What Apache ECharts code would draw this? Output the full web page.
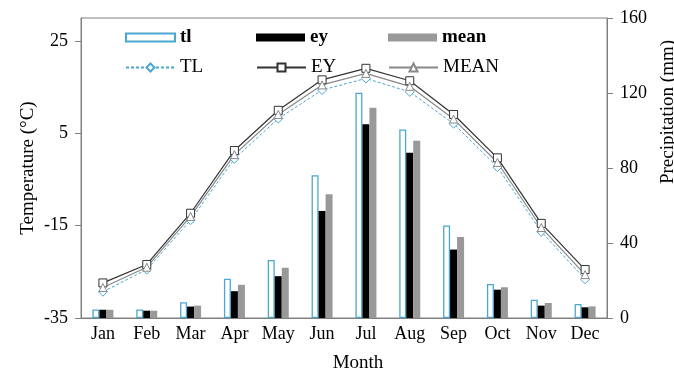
<!DOCTYPE html>
<html>
<head>
<meta charset="utf-8">
<script src="https://cdn.jsdelivr.net/npm/echarts@6/dist/echarts.min.js"></script>
<style>
  html, body { margin: 0; padding: 0; background: #fff; }
  #chart { width: 674px; height: 369px; }
</style>
</head>
<body>
<div id="chart"></div>
<script>
// Monthly climate: precipitation bars (mm) and temperature lines (°C)
const months = ['Jan', 'Feb', 'Mar', 'Apr', 'May', 'Jun', 'Jul', 'Aug', 'Sep', 'Oct', 'Nov', 'Dec'];

// Precipitation (mm)
const precipTl   = [4.6, 4.6, 8.4, 20.9, 31.0, 76.1, 120.2, 100.6, 49.4, 18.2, 9.8, 7.5];
const precipEy   = [4.4, 3.9, 6.1, 14.3, 22.3, 57.1, 103.3, 88.1, 36.5, 15.1, 6.6, 5.7];
const precipMean = [4.4, 3.9, 6.6, 17.7, 26.8, 66.0, 112.2, 94.5, 43.2, 16.4, 8.0, 6.2];

// Temperature (°C)
const tempTL   = [-29.3, -24.5, -13.8, -0.5, 8.2, 14.4, 16.9, 14.0, 7.1, -2.3, -16.3, -26.6];
const tempEY   = [-27.4, -23.4, -12.3, 1.3, 10.0, 16.6, 19.1, 16.4, 9.1, -0.3, -14.5, -24.5];
const tempMean = [-28.4, -24.0, -13.0, 0.4, 9.1, 15.5, 18.0, 15.2, 8.1, -1.3, -15.4, -25.6];

// Axis tick values
const tempTicks = [-35, -15, 5, 25];
const precipTicks = [0, 40, 80, 120, 160];

const FONT = "'Liberation Serif', 'Times New Roman', serif";
const AXIS_GRAY = '#808080';
const BLUE = '#4aa8d0';

const chart = echarts.init(document.getElementById('chart'), null, { renderer: 'canvas' });

function legendAt(name, left, top, opts) {
  return Object.assign({
    data: [name],
    left: left,
    top: top,
    itemWidth: 49,
    itemHeight: 8,
    padding: 0,
    selectedMode: false,
    textStyle: { fontFamily: FONT, fontSize: 19, color: '#000' }
  }, opts || {});
}

const boldText = { fontFamily: FONT, fontSize: 19, color: '#000', fontWeight: 'bold' };

chart.setOption({
  animation: false,
  backgroundColor: '#fff',
  textStyle: { fontFamily: FONT },
  grid: {
    left: 81, right: 67, top: 18, bottom: 51,
    outerBoundsMode: 'none',
    containLabel: false,
    show: true, borderColor: AXIS_GRAY, borderWidth: 1, backgroundColor: 'transparent'
  },
  legend: [
    legendAt('tl', 125, 28, { icon: 'rect', textStyle: boldText }),
    legendAt('ey', 256, 28, { icon: 'rect', textStyle: boldText }),
    legendAt('mean', 388, 28, { icon: 'rect', textStyle: boldText }),
    legendAt('TL', 125, 58, { itemHeight: 10 }),
    legendAt('EY', 256, 58, { itemHeight: 10 }),
    legendAt('MEAN', 388, 58, { itemHeight: 10 })
  ],
  xAxis: {
    type: 'category',
    data: months,
    name: 'Month',
    nameLocation: 'middle',
    nameGap: 36,
    nameMoveOverlap: false,
    nameTextStyle: { fontFamily: FONT, fontSize: 19, color: '#000', padding: [0, 0, 0, 28] },
    axisLine: { onZero: false, lineStyle: { color: AXIS_GRAY, width: 1 } },
    axisTick: { show: false },
    axisLabel: { fontFamily: FONT, fontSize: 18, color: '#000', margin: 7 },
    splitLine: { show: false }
  },
  yAxis: [
    {
      type: 'value',
      position: 'left',
      min: -35,
      max: 30,
      interval: 20,
      name: 'Temperature (°C)',
      nameLocation: 'middle',
      nameGap: 43,
      nameMoveOverlap: false,
      nameRotate: 90,
      nameTextStyle: { fontFamily: FONT, fontSize: 19, color: '#000' },
      axisLine: { show: true, onZero: false, lineStyle: { color: AXIS_GRAY, width: 1 } },
      axisTick: { show: true, length: 6, customValues: tempTicks, lineStyle: { color: AXIS_GRAY } },
      axisLabel: { fontFamily: FONT, fontSize: 18, color: '#000', margin: 13, customValues: tempTicks },
      splitLine: { show: false }
    },
    {
      type: 'value',
      position: 'right',
      min: 0,
      max: 160,
      interval: 40,
      axisLine: { show: true, onZero: false, lineStyle: { color: AXIS_GRAY, width: 1 } },
      axisTick: { show: true, length: 6, customValues: precipTicks, lineStyle: { color: AXIS_GRAY } },
      axisLabel: { fontFamily: FONT, fontSize: 18, color: '#000', margin: 13, customValues: precipTicks },
      splitLine: { show: false }
    }
  ],
  graphic: [
    {
      type: 'text',
      x: 668,
      y: 112,
      rotation: Math.PI / 2,
      style: {
        text: 'Precipitation (mm)',
        fontFamily: FONT,
        fontSize: 19,
        fill: '#000',
        align: 'center',
        verticalAlign: 'middle'
      }
    }
  ],
  series: [
    {
      name: 'tl', type: 'bar', yAxisIndex: 1, data: precipTl,
      barWidth: 7, barGap: '0%',
      itemStyle: { color: '#fff', borderColor: BLUE, borderWidth: 1.3 }
    },
    {
      name: 'ey', type: 'bar', yAxisIndex: 1, data: precipEy,
      barWidth: 7, barGap: '0%',
      itemStyle: { color: '#000' }
    },
    {
      name: 'mean', type: 'bar', yAxisIndex: 1, data: precipMean,
      barWidth: 7, barGap: '0%',
      itemStyle: { color: '#999' }
    },
    {
      name: 'TL', type: 'line', yAxisIndex: 0, data: tempTL,
      symbol: 'diamond', symbolSize: 9,
      lineStyle: { color: BLUE, width: 1, type: [3, 2] },
      itemStyle: { color: '#fff', borderColor: BLUE, borderWidth: 1 }
    },
    {
      name: 'EY', type: 'line', yAxisIndex: 0, data: tempEY,
      symbol: 'rect', symbolSize: 8,
      lineStyle: { color: '#333', width: 1.2 },
      itemStyle: { color: '#fff', borderColor: '#333', borderWidth: 1 }
    },
    {
      name: 'MEAN', type: 'line', yAxisIndex: 0, data: tempMean,
      symbol: 'triangle', symbolSize: 8,
      lineStyle: { color: '#888', width: 1.2 },
      itemStyle: { color: '#fff', borderColor: '#888', borderWidth: 1 }
    }
  ]
});
</script>
</body>
</html>
